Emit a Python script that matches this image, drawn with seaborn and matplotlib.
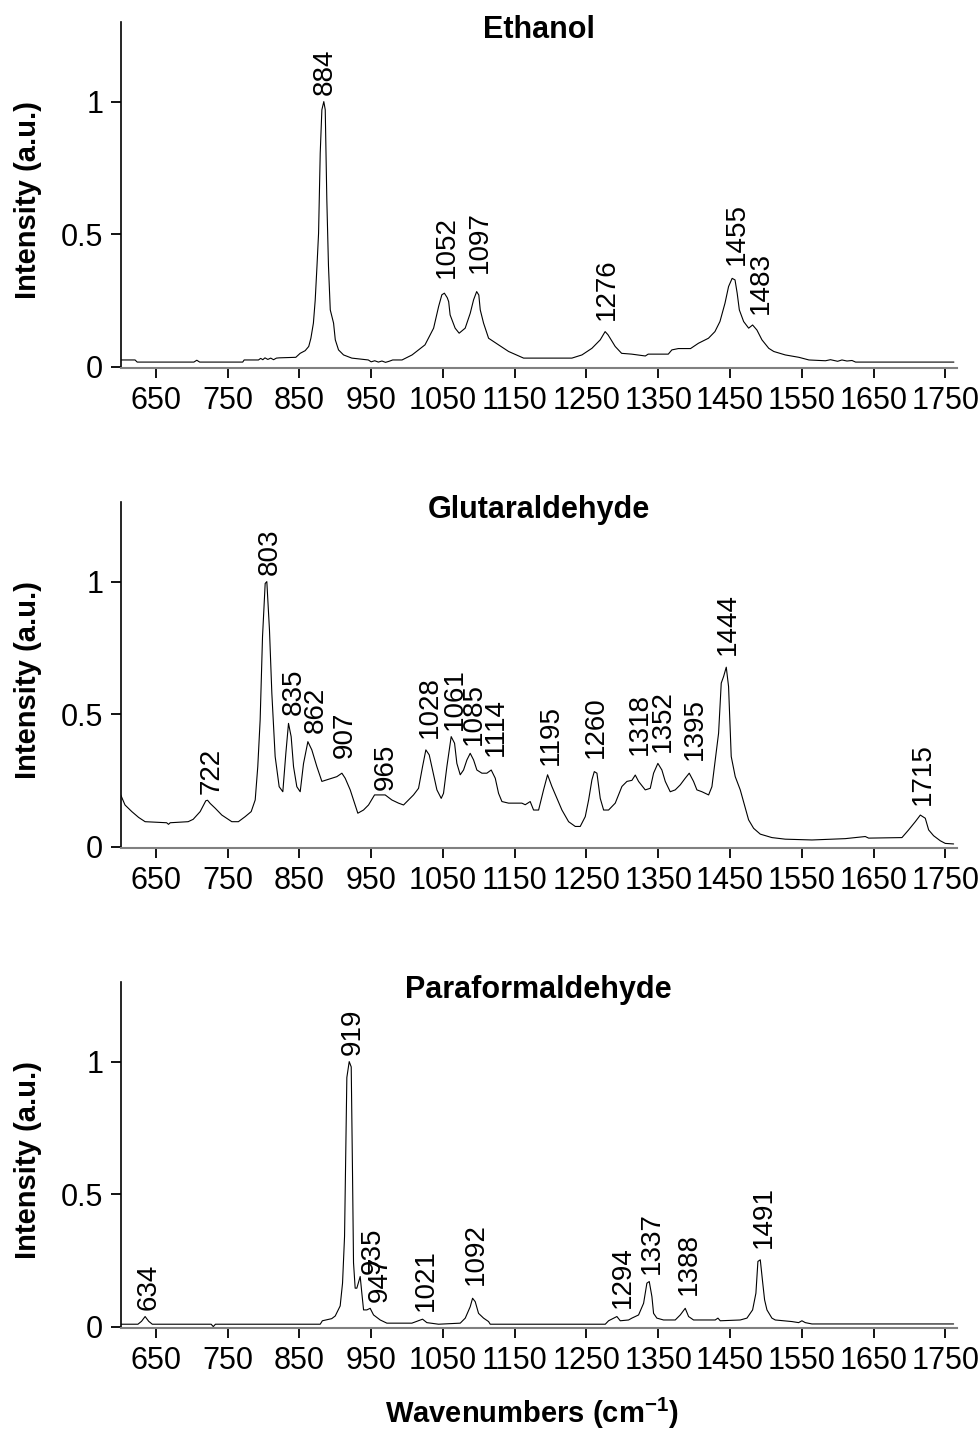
import matplotlib
matplotlib.use("Agg")
import matplotlib.pyplot as plt
import seaborn as sns
import pandas as pd

# ---------------- data ----------------
titles = ["Ethanol", "Glutaraldehyde", "Paraformaldehyde"]

eth_w = [601, 621, 624, 703, 707, 711, 771, 773, 793, 796, 799, 802, 806, 810, 814, 818, 822, 845,
         851, 858, 863, 866, 869.5, 872, 874.5, 876.7, 879, 881.3, 884, 886, 888.2, 890.5, 893,
         897.6, 900, 904.5, 911.5, 923, 946, 950, 955, 960, 965, 970, 975, 980, 993, 1007, 1025,
         1037, 1044, 1048.5, 1052, 1056, 1058, 1060, 1067, 1072.6, 1081, 1088, 1092.7, 1097, 1100,
         1102, 1106.6, 1113.6, 1127.5, 1141.5, 1162.4, 1229.7, 1243.7, 1257.6, 1269.2, 1276, 1280,
         1283, 1290, 1299, 1313, 1332, 1336, 1364, 1369, 1378, 1395, 1406, 1420, 1429, 1436, 1443,
         1448, 1453, 1457, 1460, 1463, 1469, 1476, 1481.5, 1487.5, 1494.5, 1504, 1511, 1527, 1546,
         1560, 1583, 1590, 1600, 1606, 1613, 1620, 1625, 1762]
eth_i = [0.025, 0.025, 0.017, 0.017, 0.024, 0.017, 0.017, 0.025, 0.025, 0.031, 0.026, 0.033, 0.027,
         0.032, 0.026, 0.032, 0.033, 0.035, 0.05, 0.06, 0.076, 0.107, 0.164, 0.25, 0.38, 0.503,
         0.805, 0.969, 1.0, 0.969, 0.63, 0.38, 0.214, 0.164, 0.101, 0.063, 0.044, 0.032, 0.025,
         0.018, 0.022, 0.017, 0.021, 0.016, 0.02, 0.025, 0.025, 0.044, 0.082, 0.145, 0.227, 0.271,
         0.277, 0.26, 0.245, 0.195, 0.145, 0.126, 0.145, 0.201, 0.252, 0.283, 0.27, 0.214, 0.164,
         0.107, 0.082, 0.057, 0.032, 0.032, 0.044, 0.069, 0.101, 0.132, 0.12, 0.107, 0.076, 0.05,
         0.047, 0.04, 0.047, 0.047, 0.063, 0.068, 0.068, 0.088, 0.107, 0.132, 0.17, 0.239, 0.302,
         0.333, 0.327, 0.277, 0.214, 0.17, 0.145, 0.157, 0.138, 0.101, 0.069, 0.057, 0.044, 0.035,
         0.025, 0.022, 0.026, 0.02, 0.025, 0.021, 0.023, 0.017, 0.017]

glu_w = [601, 607, 616.5, 626, 635, 665, 667.6, 670, 695, 702, 711.7, 719.6, 722, 725.6, 732.6,
         741.9, 755.8, 765, 774.4, 782.8, 788.4, 792, 795.3, 798.6, 802.3, 804.6, 808.3, 811.6,
         816.2, 821.8, 826.9, 831.1, 834.8, 838.5, 841.8, 846.4, 851.1, 855.7, 861.8, 867.3, 874.3,
         881.3, 895.2, 902.2, 909.2, 913.8, 920.8, 927.7, 931.4, 939.3, 946.3, 954.7, 969.5, 978.8,
         988.1, 995.1, 1002.1, 1009, 1016, 1021.6, 1026.2, 1030.9, 1035.5, 1041.6, 1047.6, 1050.8,
         1055.5, 1061.5, 1066.2, 1069.4, 1074.1, 1078.7, 1083.4, 1088, 1092.7, 1097.3, 1104.3,
         1111.2, 1117.3, 1122.9, 1127.5, 1132.2, 1141.4, 1160, 1164.7, 1171.6, 1176.3, 1183.3,
         1190.2, 1195.8, 1201.8, 1208.8, 1215.8, 1225.1, 1234.4, 1241.3, 1248.3, 1253, 1257.6,
         1260.9, 1264.6, 1269.2, 1273.9, 1280.8, 1290.1, 1299.4, 1306.4, 1313.3, 1318, 1322.6,
         1331.9, 1338.9, 1343.5, 1349.5, 1355.1, 1359.8, 1366.7, 1373.7, 1380.7, 1387.6, 1393.2,
         1399.2, 1403.9, 1410.9, 1420.2, 1424.8, 1429.4, 1434.1, 1437.8, 1441.1, 1444.8, 1448,
         1451.7, 1457.3, 1464.3, 1471.3, 1475.9, 1482.9, 1492.2, 1508.4, 1527, 1564.2, 1592,
         1610.6, 1638.5, 1643.2, 1689.6, 1698.9, 1708.2, 1715.2, 1722.1, 1726.8, 1733.7, 1743,
         1750, 1761.6]
glu_i = [0.195, 0.157, 0.132, 0.11, 0.094, 0.09, 0.084, 0.09, 0.094, 0.103, 0.132, 0.173, 0.175,
         0.163, 0.145, 0.119, 0.094, 0.094, 0.113, 0.132, 0.176, 0.302, 0.478, 0.792, 0.993, 1.0,
         0.817, 0.578, 0.34, 0.226, 0.207, 0.352, 0.465, 0.415, 0.302, 0.226, 0.207, 0.313, 0.396,
         0.365, 0.302, 0.246, 0.258, 0.264, 0.277, 0.258, 0.214, 0.157, 0.126, 0.138, 0.157, 0.195,
         0.195, 0.176, 0.164, 0.157, 0.176, 0.195, 0.22, 0.302, 0.365, 0.346, 0.289, 0.214, 0.182,
         0.201, 0.302, 0.415, 0.39, 0.314, 0.271, 0.289, 0.327, 0.352, 0.327, 0.289, 0.277, 0.277,
         0.289, 0.258, 0.201, 0.17, 0.164, 0.164, 0.158, 0.17, 0.138, 0.138, 0.214, 0.271, 0.227,
         0.182, 0.138, 0.094, 0.076, 0.076, 0.113, 0.176, 0.252, 0.283, 0.277, 0.182, 0.138, 0.138,
         0.164, 0.227, 0.246, 0.25, 0.27, 0.246, 0.214, 0.22, 0.277, 0.314, 0.289, 0.246, 0.207,
         0.214, 0.233, 0.258, 0.277, 0.246, 0.214, 0.207, 0.195, 0.226, 0.327, 0.428, 0.617, 0.642,
         0.677, 0.604, 0.34, 0.264, 0.214, 0.145, 0.101, 0.069, 0.047, 0.034, 0.028, 0.025, 0.028,
         0.03, 0.038, 0.032, 0.034, 0.063, 0.094, 0.119, 0.107, 0.063, 0.041, 0.022, 0.012, 0.01]

para_w = [601, 625, 630, 635, 640, 645, 727, 730, 733, 879, 882, 895, 899.9, 906.8, 910.1, 912.9,
          916.1, 919.4, 922.2, 924, 925.4, 927.7, 930, 934.7, 937, 939.4, 944, 948.6, 953.3, 962.6,
          971.9, 1006.7, 1013.7, 1021.6, 1027.6, 1043.9, 1074.1, 1081.1, 1088, 1091.3, 1095,
          1099.6, 1106.6, 1113.6, 1115.9, 1276.2, 1280.8, 1292.4, 1297.1, 1308.7, 1313.3, 1322.6,
          1329.6, 1334.2, 1337.5, 1341.2, 1343.5, 1348.1, 1357.4, 1373.7, 1380.7, 1387.6, 1392.3,
          1399.2, 1429.4, 1433.2, 1436.4, 1464.3, 1473.6, 1481.5, 1486.1, 1488.9, 1492.2, 1495.4,
          1498.2, 1501.5, 1508.4, 1513.1, 1536.3, 1545.6, 1550.2, 1554.9, 1564.2, 1761.6]
para_i = [0.009, 0.009, 0.02, 0.038, 0.02, 0.009, 0.009, 0.0, 0.009, 0.009, 0.022, 0.03, 0.04,
          0.078, 0.164, 0.34, 0.94, 1.0, 0.98, 0.58, 0.241, 0.145, 0.145, 0.189, 0.126, 0.063,
          0.063, 0.069, 0.044, 0.025, 0.013, 0.013, 0.02, 0.028, 0.015, 0.009, 0.013, 0.032, 0.075,
          0.107, 0.094, 0.05, 0.032, 0.019, 0.009, 0.009, 0.022, 0.038, 0.022, 0.025, 0.032, 0.044,
          0.088, 0.164, 0.17, 0.113, 0.05, 0.032, 0.025, 0.025, 0.044, 0.069, 0.038, 0.025, 0.025,
          0.032, 0.022, 0.025, 0.032, 0.063, 0.126, 0.246, 0.252, 0.17, 0.101, 0.063, 0.032, 0.025,
          0.019, 0.015, 0.022, 0.015, 0.01, 0.01]

# peak labels: text, x position (cm-1), label base height
eth_lbl = ["884", "1052", "1097", "1276", "1455", "1483"]
eth_lx = [882, 1052, 1099, 1275, 1457, 1490]
eth_ly = [1.025, 0.334, 0.352, 0.176, 0.384, 0.2]

glu_lbl = ["722", "803", "835", "862", "907", "965", "1028", "1061", "1085", "1114", "1195",
           "1260", "1318", "1352", "1395", "1444", "1715"]
glu_lx = [724, 806, 839.5, 869.7, 910, 967, 1028.5, 1063.4, 1090.3, 1120.5, 1198, 1260.8, 1321,
          1353.7, 1398, 1444.3, 1715.2]
glu_ly = [0.2, 1.025, 0.497, 0.428, 0.334, 0.214, 0.409, 0.44, 0.384, 0.34, 0.308, 0.334, 0.346,
          0.358, 0.327, 0.723, 0.157]

para_lbl = ["634", "919", "935", "947", "1021", "1092", "1294", "1337", "1388", "1491"]
para_lx = [637.4, 921.7, 949.6, 959.3, 1023.9, 1092.7, 1297.1, 1337.5, 1390, 1494.5]
para_ly = [0.063, 1.025, 0.2, 0.094, 0.057, 0.157, 0.069, 0.2, 0.12, 0.296]

xticks = [650, 750, 850, 950, 1050, 1150, 1250, 1350, 1450, 1550, 1650, 1750]
yticks = [0, 0.5, 1]
ytick_labels = ["0", "0.5", "1"]

# ---------------- style ----------------
sns.set_style("ticks")
plt.rcParams["font.family"] = ["Liberation Sans", "DejaVu Sans"]
plt.rcParams["mathtext.fontset"] = "custom"
plt.rcParams["mathtext.rm"] = "Liberation Sans"
plt.rcParams["mathtext.bf"] = "Liberation Sans:bold"
for key in ["text.color", "axes.labelcolor", "xtick.color", "ytick.color"]:
    plt.rcParams[key] = "black"

fig = plt.figure(figsize=(9.79, 14.35), dpi=100)
bottoms = [0.7438, 0.4093, 0.0748]
spectra = [(eth_w, eth_i), (glu_w, glu_i), (para_w, para_i)]
labels = [(eth_lbl, eth_lx, eth_ly), (glu_lbl, glu_lx, glu_ly), (para_lbl, para_lx, para_ly)]

for k in range(3):
    ax = fig.add_axes([0.1233, bottoms[k], 0.854, 0.2408])
    df = pd.DataFrame({"w": spectra[k][0], "i": spectra[k][1]})
    sns.lineplot(data=df, x="w", y="i", ax=ax, color="black", linewidth=0.8,
                 estimator=None, sort=False)
    ax.set_xlim(601, 1766)
    ax.set_ylim(-0.004, 1.3)
    ax.set_xticks(xticks)
    ax.set_xticklabels([str(t) for t in xticks])
    ax.set_yticks(yticks)
    ax.set_yticklabels(ytick_labels)
    ax.tick_params(axis="x", direction="out", length=7.5, width=1.3, pad=6, labelsize=22,
                   color="black", labelcolor="black")
    ax.tick_params(axis="y", direction="out", length=7.5, width=1.3, pad=5, labelsize=22,
                   color="black", labelcolor="black")
    for s in ["top", "right"]:
        ax.spines[s].set_visible(False)
    ax.spines["left"].set_linewidth(1.2)
    ax.spines["left"].set_color("black")
    ax.spines["bottom"].set_linewidth(1.5)
    ax.spines["bottom"].set_color("#808080")
    ax.set_xlabel("")
    ax.set_ylabel("Intensity (a.u.)", fontsize=21, fontweight="bold", color="black")
    ax.yaxis.set_label_coords(-0.094, 0.485)
    ax.text(0.5, 0.953, titles[k], transform=ax.transAxes, ha="center", va="baseline",
            fontsize=22, fontweight="bold", color="black")
    lbl, lx, ly = labels[k]
    for t, x, y in zip(lbl, lx, ly):
        ax.text(x + 3, y, t, rotation=90, ha="center", va="bottom", fontsize=20,
                color="black")

fig.text(0.543, 0.0084, r"Wavenumbers (cm$^{\mathbf{-1}}$)", ha="center", va="baseline",
         fontsize=21, fontweight="bold", color="black")

fig.savefig("out.png", dpi=100)
